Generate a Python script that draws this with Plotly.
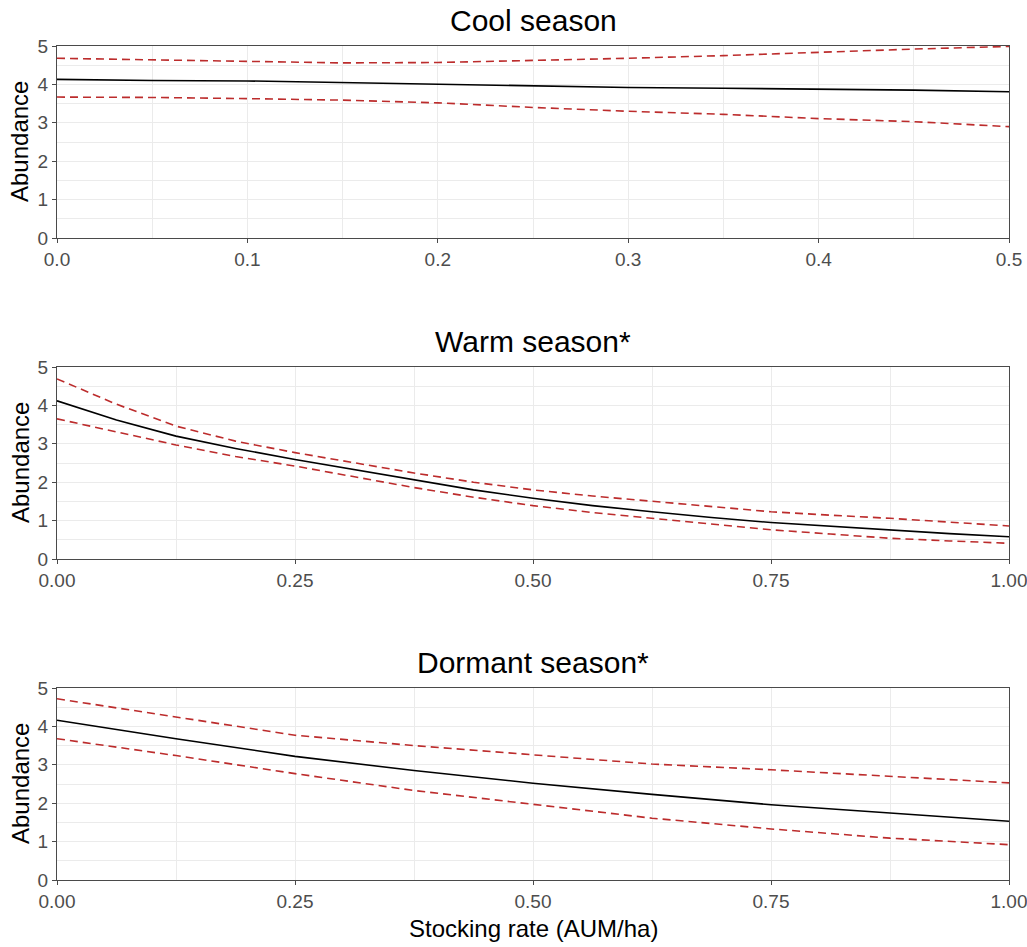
import plotly.graph_objects as go

# ---- data ----
panel_titles = ["Cool season", "Warm season*", "Dormant season*"]

cool_x = [0.0, 0.05, 0.10, 0.15, 0.20, 0.25, 0.30, 0.35, 0.40, 0.45, 0.50]
cool_mean = [4.13, 4.10, 4.09, 4.05, 4.01, 3.97, 3.92, 3.90, 3.88, 3.85, 3.81]
cool_upper = [4.68, 4.64, 4.60, 4.56, 4.57, 4.62, 4.68, 4.75, 4.84, 4.92, 4.99]
cool_lower = [3.67, 3.66, 3.63, 3.59, 3.52, 3.40, 3.30, 3.22, 3.11, 3.03, 2.90]

warm_x = [0.0, 0.0625, 0.125, 0.1875, 0.25, 0.3125, 0.375, 0.4375, 0.5,
          0.5625, 0.625, 0.6875, 0.75, 0.8125, 0.875, 0.9375, 1.0]
warm_mean = [4.12, 3.62, 3.20, 2.88, 2.59, 2.33, 2.06, 1.80, 1.58,
             1.39, 1.23, 1.08, 0.95, 0.85, 0.75, 0.66, 0.58]
warm_upper = [4.69, 4.03, 3.46, 3.07, 2.77, 2.50, 2.24, 2.00, 1.80,
              1.64, 1.50, 1.36, 1.23, 1.14, 1.06, 0.96, 0.86]
warm_lower = [3.65, 3.31, 2.97, 2.67, 2.42, 2.14, 1.86, 1.61, 1.39,
              1.21, 1.06, 0.90, 0.76, 0.65, 0.54, 0.47, 0.41]

dorm_x = [0.0, 0.125, 0.25, 0.375, 0.5, 0.625, 0.75, 0.875, 1.0]
dorm_mean = [4.16, 3.68, 3.22, 2.85, 2.52, 2.23, 1.96, 1.74, 1.53]
dorm_upper = [4.72, 4.24, 3.77, 3.50, 3.26, 3.02, 2.87, 2.70, 2.53]
dorm_lower = [3.68, 3.24, 2.77, 2.33, 1.97, 1.61, 1.33, 1.09, 0.92]

cool_ticks = [0.0, 0.1, 0.2, 0.3, 0.4, 0.5]
cool_ticklabels = ["0.0", "0.1", "0.2", "0.3", "0.4", "0.5"]
wide_ticks = [0.0, 0.25, 0.5, 0.75, 1.0]
wide_ticklabels = ["0.00", "0.25", "0.50", "0.75", "1.00"]
y_ticks = [0, 1, 2, 3, 4, 5]

x_title = "Stocking rate (AUM/ha)"
y_title = "Abundance"

# ---- styling ----
FONT = "Liberation Sans, Arial, sans-serif"
RED = "#BC2C2C"
GRID = "#EBEBEB"
BORDER = "#4A4A4A"
TICKFONT = dict(family=FONT, size=19, color="#4D4D4D")

W, H = 1027, 947
ML, MR, MT, MB = 57, 18, 46, 67
plot_h = H - MT - MB
panel_px = [(46, 238), (367, 559), (688, 880)]
domains = [[1 - (b - MT) / plot_h, 1 - (t - MT) / plot_h] for t, b in panel_px]

panels = [
    (cool_x, cool_mean, cool_upper, cool_lower, cool_ticks, cool_ticklabels, 0.5, 0.05),
    (warm_x, warm_mean, warm_upper, warm_lower, wide_ticks, wide_ticklabels, 1.0, 0.125),
    (dorm_x, dorm_mean, dorm_upper, dorm_lower, wide_ticks, wide_ticklabels, 1.0, 0.125),
]

fig = go.Figure()
layout = {}
annotations = []
for i, (xs, m, u, l, tv, tt, xmax, xminor) in enumerate(panels):
    n = "" if i == 0 else str(i + 1)
    xa, ya = "x" + n, "y" + n
    for ys in (u, l):
        fig.add_trace(go.Scatter(x=xs, y=ys, mode="lines", xaxis=xa, yaxis=ya,
                                 line=dict(color=RED, width=1.6, dash="8px,5px"),
                                 showlegend=False, hoverinfo="skip"))
    fig.add_trace(go.Scatter(x=xs, y=m, mode="lines", xaxis=xa, yaxis=ya,
                             line=dict(color="black", width=1.6),
                             showlegend=False))
    layout["xaxis" + n] = dict(
        domain=[0, 1], anchor=ya, range=[0, xmax], automargin=False,
        tickmode="array", tickvals=tv, ticktext=tt, ticklabeloverflow="allow",
        ticks="outside", ticklen=4, tickwidth=1.2, tickcolor=BORDER,
        tickfont=TICKFONT, showgrid=True, gridcolor=GRID, gridwidth=1.3,
        minor=dict(tick0=xminor, dtick=xminor * 2, showgrid=True,
                   gridcolor=GRID, gridwidth=0.6, ticks=""),
        showline=True, mirror=True, linecolor=BORDER, linewidth=1.2,
        zeroline=False, fixedrange=True,
    )
    layout["yaxis" + n] = dict(
        domain=domains[i], anchor=xa, range=[0, 5], automargin=False,
        tickmode="array", tickvals=y_ticks, ticktext=[str(v) for v in y_ticks],
        ticks="outside", ticklen=4, tickwidth=1.2, tickcolor=BORDER,
        tickfont=TICKFONT, showgrid=True, gridcolor=GRID, gridwidth=1.3,
        minor=dict(tick0=0.5, dtick=1, showgrid=True,
                   gridcolor=GRID, gridwidth=0.6, ticks=""),
        showline=True, mirror=True, linecolor=BORDER, linewidth=1.2,
        zeroline=False, fixedrange=True,
    )
    # panel title
    annotations.append(dict(
        text=panel_titles[i], x=0.5, xref="paper", y=domains[i][1], yref="paper",
        xanchor="center", yanchor="middle", yshift=25.5, showarrow=False,
        font=dict(family=FONT, size=30, color="black")))
    # y-axis title
    annotations.append(dict(
        text=y_title, x=0, xref="paper", xshift=-37,
        y=(domains[i][0] + domains[i][1]) / 2, yref="paper",
        xanchor="center", yanchor="middle", textangle=-90, showarrow=False,
        font=dict(family=FONT, size=24, color="black")))

# x-axis title (bottom panel only)
annotations.append(dict(
    text=x_title, x=0.5, xref="paper", y=0, yref="paper", yshift=-48,
    xanchor="center", yanchor="middle", showarrow=False,
    font=dict(family=FONT, size=24, color="black")))

fig.update_layout(
    width=W, height=H,
    margin=dict(l=ML, r=MR, t=MT, b=MB, pad=0),
    paper_bgcolor="white", plot_bgcolor="white",
    annotations=annotations, showlegend=False,
    font=dict(family=FONT),
    **layout,
)

fig.write_html("out.html",
               config={"displayModeBar": False},
               post_script="document.body.style.margin='0px';"
                           "document.body.style.overflow='hidden';")
